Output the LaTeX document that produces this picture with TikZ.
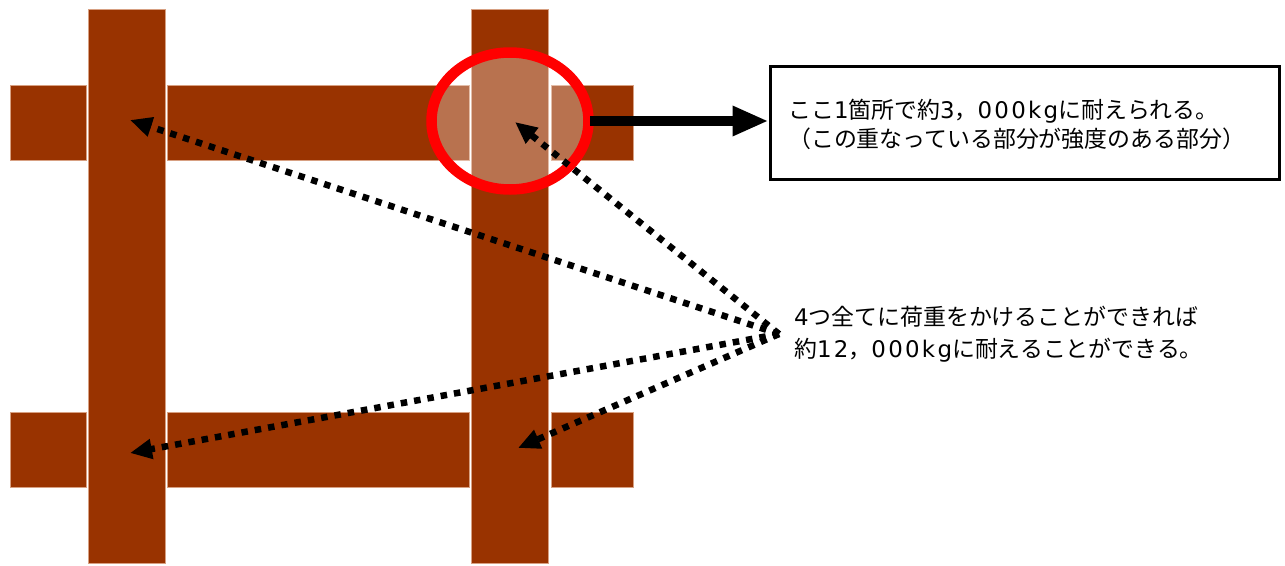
\documentclass[tikz,border=0pt]{standalone}
\usepackage{fontspec}
\newfontfamily\jp{Noto Sans CJK JP}
\newfontfamily\latw{DejaVu Sans}[LetterSpace=10]
\newcommand\lw[1]{{\latw #1}}
\usetikzlibrary{arrows.meta,shapes.geometric}
\definecolor{wood}{HTML}{993300}
\definecolor{woodedge}{RGB}{215,160,130}
\tikzset{
  beam/.style={fill=wood, draw=woodedge, line width=0.8pt},
  dotarrow/.style={line width=6.5pt, dash pattern=on 6.5pt off 7pt, -{Triangle[length=22pt,width=19pt]}},
  jptext/.style={align=left, anchor=west, inner sep=0pt},
}
\begin{document}
\begin{tikzpicture}[x=1pt,y=-1pt]
\useasboundingbox (0,0) rectangle (1285,565);
% horizontal beams (top)
\path[beam] (10,85) rectangle (86,160);
\path[beam] (167,85) rectangle (469,160);
\path[beam] (551,85) rectangle (633,160);
% horizontal beams (bottom)
\path[beam] (10,412) rectangle (86,487);
\path[beam] (167,412) rectangle (469,487);
\path[beam] (551,412) rectangle (633,487);
% posts
\path[beam] (88,9) rectangle (165,563);
\path[beam] (471,9) rectangle (548,563);
% highlighted joint
\node[ellipse, minimum width=157pt, minimum height=137pt, draw=red, line width=10.5pt, fill=white, fill opacity=0.31, draw opacity=1, inner sep=0pt] (joint) at (510,121) {};
% explanation box
\node[draw=black, line width=3pt, minimum width=509pt, minimum height=113pt, inner sep=0pt] (box) at (1024.5,123) {};
\node[jptext, font=\jp\fontsize{22.9}{29}\selectfont] (boxtext) at (788,124) {ここ\lw{1}箇所で約\lw{3}，\lw{000kg}に耐えられる。\\（この重なっている部分が強度のある部分）};
\coordinate (jointR) at (590,121);
\draw[line width=10pt, -{Triangle[length=36pt,width=28pt]}] (jointR) -- (box.west |- jointR);
% targets
\coordinate (tl) at (130,120);
\coordinate (tr) at (515,122);
\coordinate (bl) at (130,453);
\coordinate (br) at (518,448);
\coordinate (src) at (779,334);
\node[jptext, font=\jp\fontsize{22.9}{32}\selectfont] (loadtext) at (794,334) {\lw{4}つ全てに荷重をかけることができれば\\約\lw{12}，\lw{000kg}に耐えることができる。};
\draw[dotarrow] (src) -- (tl);
\draw[dotarrow] (src) -- (tr);
\draw[dotarrow] (src) -- (bl);
\draw[dotarrow] (src) -- (br);
\end{tikzpicture}
\end{document}
